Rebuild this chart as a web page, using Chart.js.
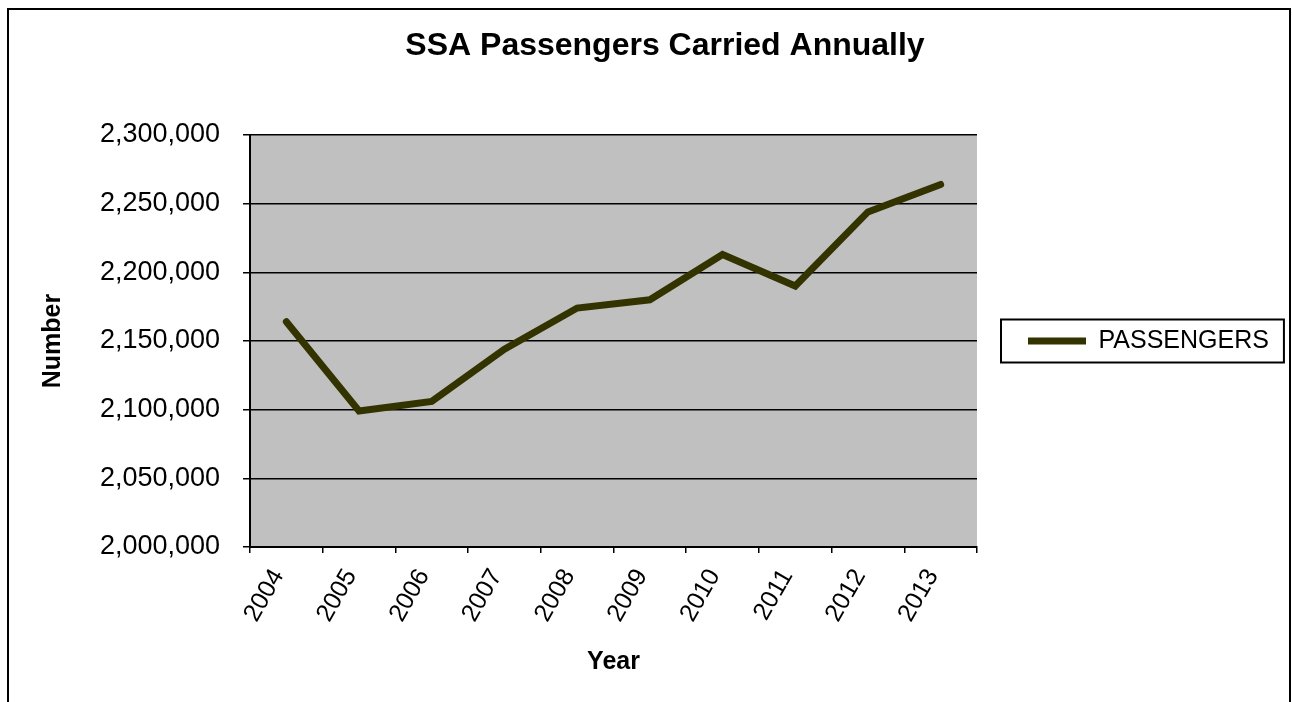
<!DOCTYPE html>
<html>
<head>
<meta charset="utf-8">
<script src="https://cdn.jsdelivr.net/npm/chart.js@4"></script>
<style>
  html, body { margin: 0; padding: 0; background: #fff; overflow: hidden; }
  #frame { position: absolute; left: 7px; top: 8px; width: 1280px; height: 720px; border: 2px solid #000; }
  #wrap { position: absolute; left: 0; top: 0; width: 1292px; height: 702px; }
</style>
</head>
<body>
<div id="frame"></div>
<div id="wrap"><canvas id="passengersChart" width="1292" height="702"></canvas></div>
<script>
// data
const years = ['2004', '2005', '2006', '2007', '2008', '2009', '2010', '2011', '2012', '2013'];
const passengers = [2164000, 2099000, 2106000, 2144000, 2174000, 2180000, 2213000, 2190000, 2244000, 2264000];
const yMin = 2000000;
const yMax = 2300000;
const yStep = 50000;

const FONT = '"Liberation Sans", Arial, sans-serif';
const W = 1292;
const plotLeft = 250;
const plotRight = 977;
const titleCenter = 665;
const legendFontSize = 25;
const legendPad = 51;
const legendLine = 58;

// legend width decides where the plot ends; title is centred on what's left
const measure = document.createElement('canvas').getContext('2d');
measure.font = legendFontSize + 'px ' + FONT;
const legendTextW = measure.measureText('PASSENGERS').width;
const legendW = legendPad + legendLine + legendFontSize / 2 + legendTextW + 10;
const padRight = W - plotRight - legendW;
const padLeft = 2 * titleCenter - (W - padRight);

// grey plot background
const plotBg = {
  id: 'plotBg',
  beforeDraw(chart) {
    const { ctx, chartArea: a } = chart;
    ctx.save();
    ctx.fillStyle = '#c0c0c0';
    ctx.fillRect(a.left, a.top, a.right - a.left, a.bottom - a.top);
    ctx.restore();
  }
};

// box round the legend
const legendBox = {
  id: 'legendBox',
  afterDraw(chart) {
    const lg = chart.legend;
    if (!lg) return;
    const { ctx } = chart;
    const cy = (lg.top + lg.bottom) / 2;
    const x0 = lg.left + legendPad - 27;
    const x1 = lg.left + legendPad + legendLine + legendFontSize / 2 + legendTextW + 15;
    ctx.save();
    ctx.strokeStyle = '#000';
    ctx.lineWidth = 2;
    ctx.strokeRect(x0, cy - 21.5, x1 - x0, 43);
    ctx.restore();
  }
};

new Chart(document.getElementById('passengersChart'), {
  type: 'line',
  data: {
    labels: years,
    datasets: [{
      label: 'PASSENGERS',
      data: passengers,
      borderColor: '#333300',
      backgroundColor: '#333300',
      borderWidth: 7,
      borderCapStyle: 'round',
      borderJoinStyle: 'miter',
      pointRadius: 0,
      pointHoverRadius: 0,
      tension: 0,
      fill: false
    }]
  },
  options: {
    responsive: false,
    animation: false,
    layout: { padding: { left: padLeft, top: 0, bottom: 0, right: padRight } },
    plugins: {
      title: {
        display: true,
        text: 'SSA Passengers Carried Annually',
        color: '#000',
        font: { family: FONT, size: 32, weight: 'bold' },
        padding: { top: 27, bottom: 69.6 }
      },
      legend: {
        position: 'right',
        fullSize: false,
        labels: {
          color: '#000',
          font: { family: FONT, size: legendFontSize },
          usePointStyle: true,
          pointStyle: 'line',
          pointStyleWidth: legendLine,
          boxHeight: 25,
          padding: legendPad
        }
      },
      tooltip: { enabled: false }
    },
    scales: {
      x: {
        offset: true,
        afterFit(scale) { scale.height = 155; },
        grid: {
          offset: true,
          drawOnChartArea: false,
          drawTicks: true,
          tickLength: 6,
          color: '#000',
          lineWidth: 1.5
        },
        border: { display: true, color: '#000', width: 2 },
        ticks: {
          autoSkip: false,
          maxRotation: 60,
          minRotation: 60,
          padding: 11,
          labelOffset: -8,
          color: '#000',
          font: { family: FONT, size: 25 }
        },
        title: {
          display: true,
          text: 'Year',
          color: '#000',
          font: { family: FONT, size: 25, weight: 'bold' },
          padding: { top: 0, bottom: 25 }
        }
      },
      y: {
        min: yMin,
        max: yMax,
        afterFit(scale) { scale.width = plotLeft - padLeft; },
        grid: {
          color: '#000',
          lineWidth: 1.5,
          drawTicks: true,
          tickLength: 7,
          tickColor: '#000'
        },
        border: { display: true, color: '#000', width: 2 },
        ticks: {
          stepSize: yStep,
          padding: 23,
          color: '#000',
          font: { family: FONT, size: 27 },
          callback: (v) => Number(v).toLocaleString('en-US')
        },
        title: {
          display: true,
          text: 'Number',
          color: '#000',
          font: { family: FONT, size: 25, weight: 'bold' },
          padding: { top: 53 - 15 - padLeft, bottom: 0 }
        }
      }
    }
  },
  plugins: [plotBg, legendBox]
});
</script>
</body>
</html>
